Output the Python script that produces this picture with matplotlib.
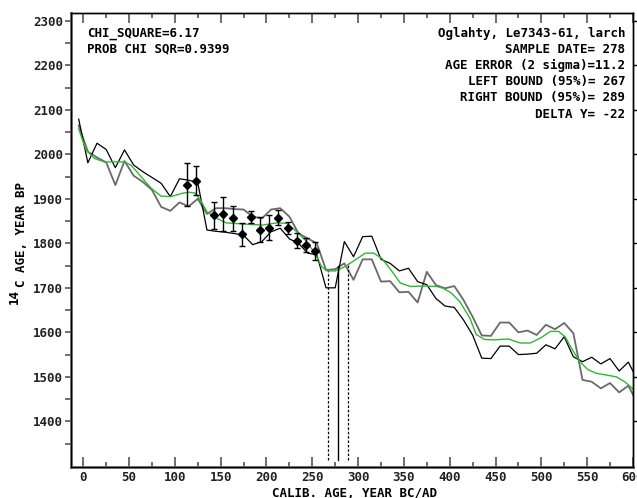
import matplotlib
matplotlib.use('Agg')
import matplotlib.pyplot as plt
from matplotlib.ticker import MultipleLocator

# calibration curve envelopes, vertices every 10 years
yrs = list(range(-5, 606, 10))
curve_black = [2079, 1981, 2025, 2011, 1970, 2010, 1976, 1961, 1948, 1935,
               1905, 1945, 1942, 1936, 1830, 1827, 1825, 1822, 1818, 1797,
               1804, 1826, 1834, 1810, 1800, 1778, 1774, 1700, 1700, 1804,
               1770, 1815, 1816, 1764, 1755, 1738, 1744, 1714, 1707, 1676,
               1659, 1656, 1628, 1594, 1542, 1541, 1569, 1569, 1550, 1551,
               1553, 1572, 1563, 1590, 1545, 1534, 1544, 1529, 1541, 1513,
               1533, 1493]
curve_gray = [2065, 2006, 1993, 1982, 1931, 1985, 1952, 1938, 1920, 1882,
              1873, 1892, 1883, 1900, 1866, 1879, 1879, 1877, 1876, 1860,
              1856, 1876, 1879, 1860, 1822, 1811, 1800, 1740, 1742, 1755,
              1718, 1764, 1764, 1714, 1715, 1690, 1691, 1667, 1736, 1706,
              1699, 1704, 1673, 1635, 1593, 1592, 1622, 1622, 1600, 1604,
              1594, 1617, 1607, 1621, 1598, 1493, 1489, 1474, 1486, 1465,
              1480, 1441]

# smoothed curve (green)
green_x = [-5, 3, 12, 23, 34, 45, 52, 63, 74, 85, 96, 107, 115, 122, 128,
           135, 142, 156, 178, 196, 211, 222, 231, 242, 253, 260, 266, 275,
           286, 297, 308, 317, 326, 337, 346, 357, 371, 386, 393, 402, 411,
           422, 429, 438, 448, 464, 477, 488, 499, 510, 519, 526, 533, 542,
           551, 560, 571, 582, 591, 601]
green_y = [2057, 2010, 1991, 1983, 1983, 1983, 1976, 1950, 1924, 1906, 1905,
           1912, 1915, 1913, 1897, 1871, 1860, 1846, 1843, 1841, 1846, 1845,
           1830, 1808, 1778, 1748, 1738, 1738, 1748, 1763, 1778, 1778, 1766,
           1737, 1711, 1703, 1704, 1703, 1699, 1688, 1669, 1632, 1595, 1584,
           1583, 1585, 1576, 1576, 1587, 1602, 1602, 1590, 1564, 1534, 1516,
           1508, 1504, 1500, 1489, 1471]

# wiggle-match samples
samp_x = [113, 123, 143, 153, 163, 173, 183, 193, 203, 213, 223, 233, 243, 253]
samp_y = [1932, 1941, 1863, 1866, 1856, 1820, 1859, 1831, 1835, 1858, 1835,
          1806, 1796, 1783]
samp_err = [48, 33, 30, 39, 29, 26, 14, 28, 28, 17, 13, 17, 15, 20]

sample_date = 278
left_bound = 267
right_bound = 289

W, H = 637, 498
fig = plt.figure(figsize=(W / 100, H / 100), dpi=100)
ax = fig.add_axes([71 / W, 1 - 466.7 / H, 562 / W, 453.4 / H])

fnt = dict(family='DejaVu Sans Mono', weight='bold', size=9)

ax.plot(yrs, curve_gray, color='#6a6a6a', lw=1.3, clip_on=True)
ax.plot(yrs, curve_black, color='black', lw=0.9, clip_on=True)
ax.plot(green_x, green_y, color='#2fb82f', lw=1.0)
ax.errorbar(samp_x, samp_y, yerr=samp_err, fmt='D', color='black', ms=4.5,
            elinewidth=1.0, capsize=2.5, capthick=1.0)

ax.plot([left_bound, left_bound], [1313, 1738], color='black', lw=0.9, ls=(0, (2, 1.5)))
ax.plot([right_bound, right_bound], [1313, 1755], color='black', lw=0.9, ls=(0, (2, 1.5)))
ax.plot([sample_date, sample_date], [1313, 1750], color='black', lw=1.0)

ax.set_xlim(-13.4, 600.1)
ax.set_ylim(1298, 2317)
ax.xaxis.set_major_locator(MultipleLocator(50))
ax.xaxis.set_minor_locator(MultipleLocator(25))
ax.set_yticks(range(1400, 2301, 100))
ax.set_yticks(range(1350, 2301, 50), minor=True)

ax.tick_params(axis='x', which='both', direction='in', top=True, bottom=True,
               color='#555555', pad=3)
ax.tick_params(axis='x', which='major', length=7, width=1.2)
ax.tick_params(axis='x', which='minor', length=3.5, width=1.2)
ax.tick_params(axis='y', which='both', direction='out', left=True, right=False,
               length=4.5, width=1.2, color='#555555', pad=1)
for lab in ax.get_xticklabels() + ax.get_yticklabels():
    lab.set_fontproperties(matplotlib.font_manager.FontProperties(**fnt))
    lab.set_color('#222222')

axr = ax.twinx()
axr.set_ylim(ax.get_ylim())
axr.set_yticks(range(1400, 2301, 100))
axr.tick_params(axis='y', direction='out', length=4, width=1.0, labelright=False)

for side in ['left', 'bottom']:
    ax.spines[side].set_color('#666666')
    ax.spines[side].set_linewidth(2)
for side in ['top', 'right']:
    ax.spines[side].set_color('black')
    ax.spines[side].set_linewidth(1)
    axr.spines[side].set_linewidth(1)

def fx(x, y):
    return x / W, 1 - y / H

fig.text(*fx(87, 33), 'CHI_SQUARE=6.17', ha='left', va='center', **fnt)
fig.text(*fx(87, 49), 'PROB CHI SQR=0.9399', ha='left', va='center', **fnt)
right_lines = ['Oglahty, Le7343-61, larch', 'SAMPLE DATE= 278',
               'AGE ERROR (2 sigma)=11.2', 'LEFT BOUND (95%)= 267',
               'RIGHT BOUND (95%)= 289', 'DELTA Y= -22']
for i, s in enumerate(right_lines):
    fig.text(*fx(625, 33 + 16.2 * i), s, ha='right', va='center', **fnt)

fig.text(*fx(355, 493), 'CALIB. AGE, YEAR BC/AD', ha='center', va='center', **fnt)
fig.text(*fx(22, 287), 'C AGE, YEAR BP', ha='center', va='bottom', rotation=90, **fnt)
fig.text(*fx(14, 304), '14', ha='center', va='bottom', rotation=90, **fnt)

fig.savefig('out.png', dpi=100)
